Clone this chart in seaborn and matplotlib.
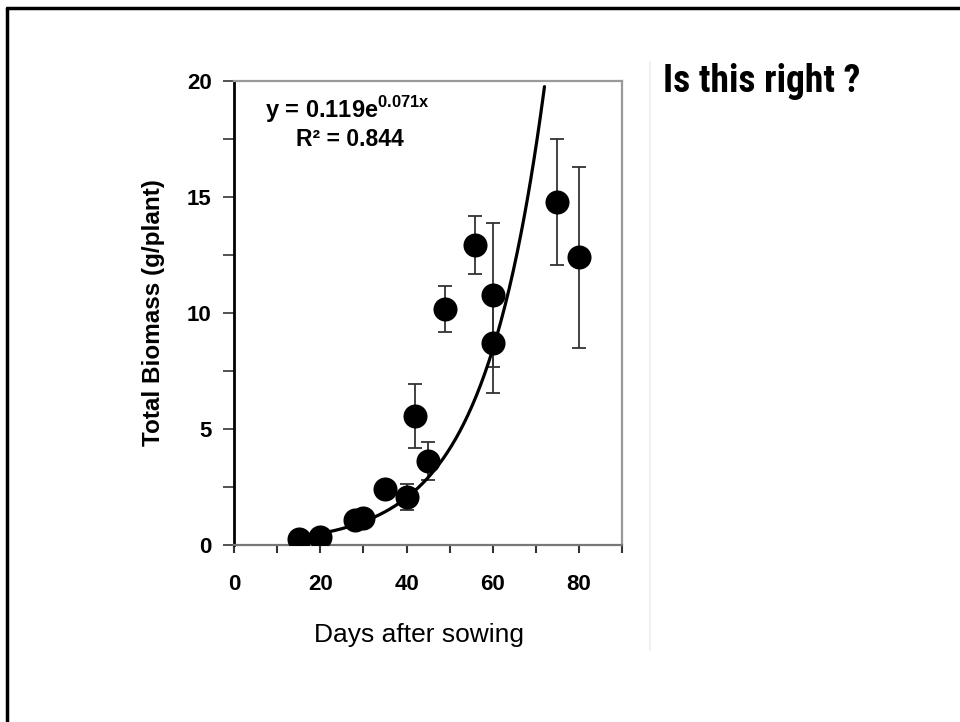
import numpy as np
import pandas as pd
import matplotlib
matplotlib.use("Agg")
import matplotlib.pyplot as plt
from matplotlib.lines import Line2D
from matplotlib import font_manager
import seaborn as sns

# ---- data ----
days = [15, 20, 28, 30, 35, 40, 42, 45, 49, 56, 60, 60, 75, 80]
biomass = [0.25, 0.35, 1.08, 1.16, 2.41, 2.07, 5.56, 3.62, 10.17, 12.93, 10.78, 8.70, 14.78, 12.41]
errors = [0, 0, 0, 0, 0, 0.55, 1.38, 0.82, 1.0, 1.25, 3.1, 2.15, 2.7, 3.9]
fit_a = 0.119
fit_b = 0.071
fit_x_range = [15, 72]
x_ticks = [0, 20, 40, 60, 80]
y_ticks = [0, 5, 10, 15, 20]

sns.set_theme(style="white")
plt.rcParams['font.family'] = ['Liberation Sans', 'DejaVu Sans']
plt.rcParams['mathtext.fontset'] = 'custom'
plt.rcParams['mathtext.rm'] = 'Liberation Sans:bold'
plt.rcParams['mathtext.bf'] = 'Liberation Sans:bold'

fig = plt.figure(figsize=(9.6, 7.22), dpi=100)
fig.patch.set_facecolor("white")
ax = fig.add_axes([0.2438, 0.2452, 0.4042, 0.6427])

df = pd.DataFrame({"days": days, "biomass": biomass, "err": errors})

# fit curve
fx = np.linspace(fit_x_range[0], fit_x_range[1], 300)
fit_df = pd.DataFrame({"x": fx, "y": fit_a * np.exp(fit_b * fx)})
sns.lineplot(data=fit_df, x="x", y="y", ax=ax, color="black", linewidth=2.3, zorder=3)

# error bars
eb = df[df["err"] > 0]
ax.errorbar(eb["days"], eb["biomass"], yerr=eb["err"], fmt="none",
            ecolor="#333333", elinewidth=1.3, capsize=5, capthick=1.3, zorder=2)

# markers
sns.scatterplot(data=df, x="days", y="biomass", ax=ax, s=300, color="black",
                edgecolor="black", linewidth=0, zorder=4, legend=False)

ax.set_xlim(0, 90)
ax.set_ylim(0, 20)
ax.set_xticks(np.arange(0, 91, 10))
ax.set_xticklabels([str(v) if v in x_ticks else "" for v in range(0, 91, 10)])
ax.set_yticks(np.arange(0, 20.1, 2.5))
ax.set_yticklabels([str(int(v)) if v in y_ticks else "" for v in np.arange(0, 20.1, 2.5)])

for lab in ax.get_xticklabels() + ax.get_yticklabels():
    lab.set_fontweight("bold")
    lab.set_fontsize(16)
    lab.set_color("black")

ax.tick_params(axis="x", direction="out", length=6, width=1.5, color="#333333", pad=15, bottom=True)
ax.tick_params(axis="y", direction="out", length=8, width=1.2, color="#333333", pad=8, left=True)

ax.spines["left"].set_color("black")
ax.spines["left"].set_linewidth(2)
ax.spines["bottom"].set_color("#777777")
ax.spines["bottom"].set_linewidth(1.6)
ax.spines["top"].set_color("#999999")
ax.spines["top"].set_linewidth(1.6)
ax.spines["right"].set_color("#999999")
ax.spines["right"].set_linewidth(1.6)

ax.set_xlabel("Days after sowing", fontsize=19, color="black")
ax.xaxis.set_label_coords(0.477, -0.168)
ax.set_ylabel("Total Biomass (g/plant)", fontsize=17.5, fontweight="bold", labelpad=16, color="black")

ax.text(0.293, 0.9375, r"y = 0.119e$^{\mathrm{0.071x}}$", transform=ax.transAxes,
        ha="center", va="center", fontsize=17, fontweight="bold", color="black")
ax.text(0.299, 0.873, "R² = 0.844", transform=ax.transAxes,
        ha="center", va="center", fontsize=16.5, fontweight="bold", color="black")

# slide title text (narrow bold face if available)
avail = {f.name for f in font_manager.fontManager.ttflist}
title_fams = [f for f in ['Liberation Sans Narrow', 'Roboto Condensed', 'Roboto'] if f in avail] + ['DejaVu Sans']
fig.text(663 / 960, 1 - 82 / 722, "Is this right ?", fontsize=27, fontweight="bold",
         family=title_fams, ha="left", va="center", color="black")

# faint separator line
fig.add_artist(Line2D([650 / 960, 650 / 960], [1 - 62 / 722, 1 - 650 / 722],
                      transform=fig.transFigure, color="#f0f0f0", linewidth=1.5))

# slide border
fig.add_artist(Line2D([7 / 960, 1.0], [1 - 8 / 722, 1 - 8 / 722],
                      transform=fig.transFigure, color="black", linewidth=2.5))
fig.add_artist(Line2D([7 / 960, 7 / 960], [0.0, 1 - 8 / 722],
                      transform=fig.transFigure, color="black", linewidth=2.5))

fig.savefig("out.png", dpi=100, facecolor="white")
